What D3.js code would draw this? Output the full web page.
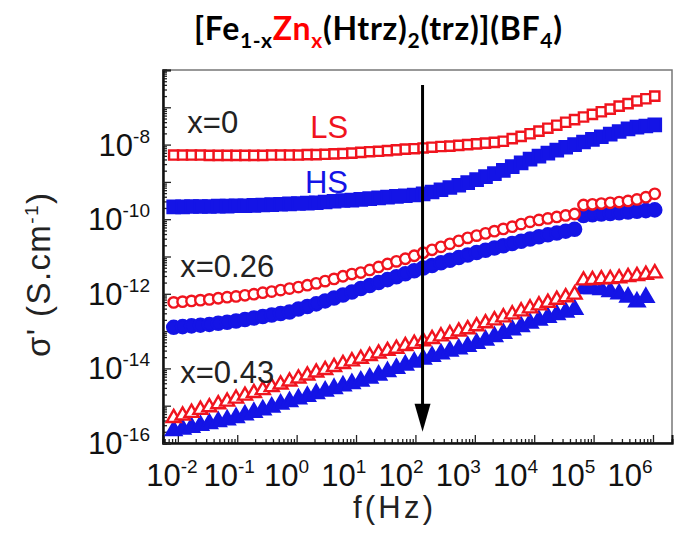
<!DOCTYPE html>
<html>
<head>
<meta charset="utf-8">
<script src="https://cdn.jsdelivr.net/npm/d3@7"></script>
<style>
  body { margin: 0; background: #fff; }
  svg { display: block; }
</style>
</head>
<body>
<div id="chart"></div>
<script>
// log10 of the measuring frequency (Hz)
const logFreq = [
  -2.07, -1.92, -1.77, -1.62, -1.47, -1.32, -1.17, -1.02, -0.87, -0.72,
  -0.57, -0.42, -0.27, -0.12, 0.03, 0.18, 0.33, 0.48, 0.63, 0.78,
  0.93, 1.08, 1.23, 1.38, 1.53, 1.68, 1.83, 1.98, 2.13, 2.28,
  2.43, 2.58, 2.73, 2.88, 3.03, 3.18, 3.33, 3.48, 3.63, 3.78,
  3.93, 4.08, 4.23, 4.38, 4.53, 4.68, 4.83, 4.98, 5.13, 5.28,
  5.43, 5.58, 5.73, 5.88, 6.03
];

// log10 sigma' (S/cm)
const lsX0 = [
  -8.28, -8.28, -8.28, -8.28, -8.29, -8.29, -8.29, -8.29, -8.29, -8.29,
  -8.29, -8.28, -8.28, -8.28, -8.28, -8.27, -8.27, -8.26, -8.25, -8.24,
  -8.23, -8.21, -8.19, -8.18, -8.16, -8.14, -8.12, -8.11, -8.09, -8.07,
  -8.05, -8.04, -8.02, -8.00, -7.98, -7.96, -7.94, -7.91, -7.84, -7.78,
  -7.71, -7.64, -7.56, -7.48, -7.40, -7.33, -7.26, -7.19, -7.12, -7.05,
  -6.97, -6.90, -6.83, -6.77, -6.70
];
const hsX0 = [
  -9.67, -9.67, -9.66, -9.66, -9.66, -9.65, -9.65, -9.64, -9.64, -9.63,
  -9.62, -9.61, -9.60, -9.59, -9.58, -9.57, -9.56, -9.54, -9.52, -9.50,
  -9.49, -9.47, -9.45, -9.43, -9.41, -9.39, -9.37, -9.35, -9.32, -9.27,
  -9.21, -9.15, -9.09, -9.02, -8.94, -8.86, -8.78, -8.69, -8.59, -8.49,
  -8.39, -8.31, -8.23, -8.15, -8.07, -8.00, -7.93, -7.86, -7.79, -7.72,
  -7.65, -7.58, -7.53, -7.50, -7.47
];
const lsX026 = [
  -12.23, -12.21, -12.19, -12.17, -12.15, -12.12, -12.09, -12.07, -12.04, -12.01,
  -11.97, -11.94, -11.90, -11.86, -11.82, -11.77, -11.72, -11.66, -11.60, -11.53,
  -11.47, -11.43, -11.36, -11.28, -11.20, -11.13, -11.06, -10.98, -10.90, -10.82,
  -10.74, -10.66, -10.58, -10.50, -10.44, -10.38, -10.32, -10.26, -10.20, -10.13,
  -10.07, -10.02, -9.98, -9.94, -9.90, -9.86, -9.62, -9.60, -9.58, -9.56,
  -9.54, -9.51, -9.47, -9.41, -9.32
];
const hsX026 = [
  -12.90, -12.88, -12.86, -12.84, -12.82, -12.79, -12.76, -12.73, -12.69, -12.65,
  -12.61, -12.57, -12.53, -12.49, -12.41, -12.34, -12.27, -12.19, -12.11, -12.03,
  -11.95, -11.86, -11.78, -11.70, -11.62, -11.54, -11.46, -11.38, -11.31, -11.24,
  -11.17, -11.10, -11.03, -10.96, -10.89, -10.83, -10.77, -10.71, -10.65, -10.59,
  -10.53, -10.47, -10.42, -10.37, -10.32, -10.27, -9.90, -9.88, -9.86, -9.85,
  -9.83, -9.81, -9.79, -9.77, -9.75
];
const lsX043 = [
  -15.33, -15.26, -15.19, -15.11, -15.04, -14.96, -14.89, -14.81, -14.73, -14.66,
  -14.58, -14.50, -14.43, -14.35, -14.27, -14.19, -14.11, -14.04, -13.96, -13.88,
  -13.81, -13.74, -13.67, -13.60, -13.53, -13.47, -13.40, -13.34, -13.27, -13.21,
  -13.14, -13.08, -13.01, -12.95, -12.87, -12.79, -12.71, -12.63, -12.55, -12.47,
  -12.39, -12.31, -12.24, -12.16, -12.09, -12.02, -11.64, -11.63, -11.61, -11.60,
  -11.58, -11.55, -11.52, -11.49, -11.45
];
const hsX043 = [
  -15.67, -15.63, -15.58, -15.53, -15.48, -15.43, -15.38, -15.32, -15.25, -15.18,
  -15.11, -15.04, -14.96, -14.89, -14.82, -14.75, -14.68, -14.61, -14.54, -14.47,
  -14.41, -14.34, -14.26, -14.18, -14.09, -14.00, -13.91, -13.83, -13.75, -13.68,
  -13.61, -13.54, -13.48, -13.41, -13.33, -13.24, -13.15, -13.06, -12.97, -12.88,
  -12.79, -12.71, -12.63, -12.56, -12.49, -12.42, -11.86, -11.86, -11.89, -11.94,
  -12.00, -12.09, -12.22, -12.10, null
];

const xDecades = [-2, -1, 0, 1, 2, 3, 4, 5, 6];
const yLabelDecades = [-8, -10, -12, -14, -16];

const W = 681, H = 543;
const margin = { top: 70, right: 9, bottom: 100, left: 163 };
const plotW = W - margin.left - margin.right;
const plotH = H - margin.top - margin.bottom;

const svg = d3.select("#chart").append("svg")
  .attr("width", W).attr("height", H)
  .style("font-family", "'Liberation Sans', Arial, sans-serif");

const x = d3.scaleLog().domain([10 ** -2.25, 10 ** 6.32]).range([0, plotW]);
const y = d3.scaleLog().domain([1e-16, 1e-6]).range([plotH, 0]);
// the printed tick labels sit a little left of their ticks in the original
const xLabel = d3.scaleLog().domain([1e-2, 1e6]).range([172 - margin.left, 630 - margin.left]);

const g = svg.append("g").attr("transform", `translate(${margin.left},${margin.top})`);

// frame
g.append("rect")
  .attr("width", plotW).attr("height", plotH)
  .attr("fill", "none").attr("stroke", "#777").attr("stroke-width", 1.5);

// ticks (inside the frame)
const inX = v => v >= x.domain()[0] && v <= 10 ** 6.25;
const inY = v => v >= y.domain()[0] && v <= y.domain()[1];
const xMajor = d3.range(-2, 7).map(d => 10 ** d);
const xMinor = d3.range(-3, 7).flatMap(d => d3.range(2, 10).map(m => m * 10 ** d)).filter(inX);
const yMajor = d3.range(-16, -5).map(d => 10 ** d);
const yMinor = d3.range(-16, -6).flatMap(d => d3.range(2, 10).map(m => m * 10 ** d)).filter(inY);

function tickAxis(axis, values, size) {
  return axis.tickValues(values).tickSize(size).tickFormat("");
}
const xAxisG = g.append("g").attr("transform", `translate(0,${plotH})`);
xAxisG.append("g").call(tickAxis(d3.axisBottom(x), xMinor, -4));
xAxisG.append("g").call(tickAxis(d3.axisBottom(x), xMajor, -8));
const yAxisG = g.append("g");
yAxisG.append("g").call(tickAxis(d3.axisLeft(y), yMinor, -4));
yAxisG.append("g").call(tickAxis(d3.axisLeft(y), yMajor, -8));
g.selectAll(".domain").attr("stroke", "#111").attr("stroke-width", 2);
g.selectAll(".tick line").attr("stroke", "#222").attr("stroke-width", 1.3);

// tick labels
const xl = g.append("g");
xDecades.forEach(d => {
  const t = xl.append("text")
    .attr("x", xLabel(10 ** d)).attr("y", plotH + 43)
    .attr("text-anchor", "middle").attr("fill", "#111").attr("font-size", 31);
  t.append("tspan").text("10");
  t.append("tspan").attr("dy", -13).attr("font-size", 19).text(d);
});
const yl = g.append("g");
yLabelDecades.forEach(d => {
  const t = yl.append("text")
    .attr("x", -13).attr("y", y(10 ** d) + 11)
    .attr("text-anchor", "end").attr("fill", "#111").attr("font-size", 31);
  t.append("tspan").text("10");
  t.append("tspan").attr("dy", -13).attr("font-size", 19).text(d);
});

// axis titles
svg.append("text")
  .attr("x", 393).attr("y", 518).attr("text-anchor", "middle")
  .attr("font-size", 31).attr("fill", "#222")
  .attr("textLength", 80).attr("lengthAdjust", "spacing")
  .text("f(Hz)");
const yt = svg.append("text")
  .attr("transform", "translate(50,275) rotate(-90)")
  .attr("text-anchor", "middle").attr("font-size", 33).attr("fill", "#222")
  .attr("textLength", 164).attr("lengthAdjust", "spacing");
yt.append("tspan").text("σ' (S.cm");
yt.append("tspan").attr("dy", -12).attr("font-size", 19).text("-1");
yt.append("tspan").attr("dy", 12).text(")");

// title: plain and subscript pieces, [text, isSub, isRed]
const titleParts = [
  ["[Fe", false, false], ["1-x", true, false], ["Zn", false, true], ["x", true, true],
  ["(Htrz)", false, false], ["2", true, false], ["(trz)](BF", false, false],
  ["4", true, false], [")", false, false]
];
const title = svg.append("text")
  .attr("x", 378).attr("y", 40).attr("text-anchor", "middle")
  .attr("font-family", "Lato, 'Open Sans', sans-serif").attr("font-weight", "bold")
  .attr("font-size", 32).attr("fill", "#000")
  .attr("textLength", 368).attr("lengthAdjust", "spacing");
let shifted = false;
titleParts.forEach(([txt, sub, isRed]) => {
  const s = title.append("tspan").text(txt)
    .attr("dy", sub === shifted ? 0 : (sub ? 8 : -8));
  if (sub) s.attr("font-size", 21);
  if (isRed) s.attr("fill", "#f00");
  shifted = sub;
});

// data series
const red = "#f0141e", blue = "#1414e6";
const series = [
  { vals: hsX0, type: d3.symbolSquare, size: 150, fill: blue, stroke: blue },
  { vals: lsX0, type: d3.symbolSquare, size: 85, fill: "#fff", stroke: red },
  { vals: hsX026, type: d3.symbolCircle, size: 135, fill: blue, stroke: blue },
  { vals: lsX026, type: d3.symbolCircle, size: 85, fill: "#fff", stroke: red },
  { vals: hsX043, type: d3.symbolTriangle, size: 100, fill: blue, stroke: blue },
  { vals: lsX043, type: d3.symbolTriangle, size: 85, fill: "#fff", stroke: red }
];
series.forEach(s => {
  const pts = logFreq.map((lf, i) => ({ f: 10 ** lf, v: s.vals[i] }))
    .filter(p => p.v !== null)
    .map(p => ({ f: p.f, s: 10 ** p.v }));
  g.append("g").selectAll("path")
    .data(pts).enter().append("path")
    .attr("d", d3.symbol().type(s.type).size(s.size))
    .attr("transform", d => `translate(${x(d.f)},${y(d.s)})`)
    .attr("fill", s.fill).attr("stroke", s.stroke).attr("stroke-width", 2.4);
});

// annotations
const note = (txt, fx, sy, color) => g.append("text")
  .attr("x", x(fx)).attr("y", y(sy))
  .attr("font-size", 31).attr("fill", color).text(txt);
note("x=0", 10 ** -1.84, 10 ** -7.69, "#222");
note("LS", 10 ** 0.23, 10 ** -7.82, red);
note("HS", 10 ** 0.14, 10 ** -9.3, blue);
note("x=0.26", 10 ** -1.96, 10 ** -11.55, "#222");
note("x=0.43", 10 ** -1.96, 10 ** -14.39, "#222");

// arrow
const ax = x(10 ** 2.12);
g.append("line")
  .attr("x1", ax).attr("x2", ax).attr("y1", y(10 ** -6.4)).attr("y2", y(10 ** -15.1))
  .attr("stroke", "#000").attr("stroke-width", 3);
g.append("path")
  .attr("d", `M${ax - 8},${y(10 ** -14.95)} L${ax + 8},${y(10 ** -14.95)} L${ax},${y(10 ** -15.7)} Z`)
  .attr("fill", "#000");
</script>
</body>
</html>
